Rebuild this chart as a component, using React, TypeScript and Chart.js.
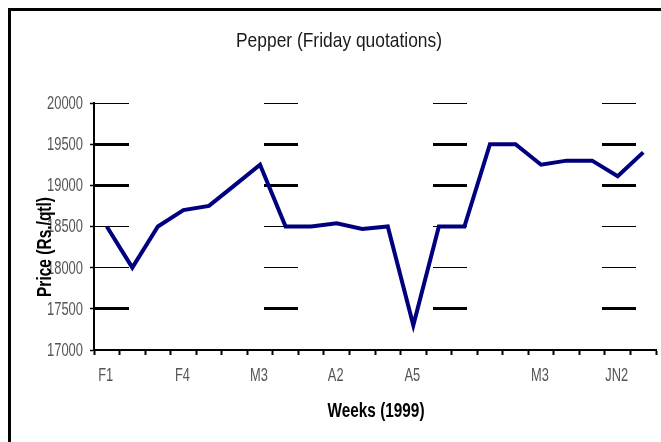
import React, { useEffect, useRef } from "react";
import { Chart, registerables } from "chart.js";

Chart.register(...registerables);

// ---- data ----
const weekLabels: string[] = [
  "F1", "", "", "F4", "", "", "M3", "", "", "A2", "", "",
  "A5", "", "", "", "", "M3", "", "", "JN2", "",
];
const pepperPrices: number[] = [
  18500, 18000, 18500, 18700, 18750, 19000, 19250, 18500, 18500, 18540, 18470,
  18500, 17300, 18500, 18500, 19500, 19500, 19250, 19300, 19300, 19110, 19400,
];
const yMin = 17000;
const yMax = 20000;
const yStep = 500;
const heavyGridValues: number[] = [19500, 19000, 17500];
const chartTitle = "Pepper (Friday quotations)";
const xAxisTitle = "Weeks (1999)";
const yAxisTitle = "Price (Rs./qtl)";

const FAMILY = "'Liberation Sans', Arial, sans-serif";

function drawScaled(
  ctx: CanvasRenderingContext2D,
  text: string,
  x: number,
  y: number,
  align: CanvasTextAlign,
  sx: number
) {
  ctx.save();
  ctx.translate(x, y);
  ctx.scale(sx, 1);
  ctx.textAlign = align;
  ctx.fillText(text, 0, 0);
  ctx.restore();
}

const overlayPlugin = {
  id: "overlayTexts",
  beforeDraw(chart: any) {
    const { ctx, width, height } = chart;
    ctx.save();
    ctx.fillStyle = "#ffffff";
    ctx.fillRect(0, 0, width, height);
    ctx.restore();
  },
  afterDraw(chart: any) {
    const { ctx, chartArea } = chart;
    const xs = chart.scales.x;
    const ys = chart.scales.y;
    ctx.save();
    // outer frame
    ctx.lineWidth = 3;
    ctx.strokeStyle = "#000000";
    ctx.strokeRect(9.5, 9.5, 1000, 1000);

    // y tick labels (narrow)
    ctx.fillStyle = "#555555";
    ctx.font = `18px ${FAMILY}`;
    ctx.textBaseline = "middle";
    const ySx = 36 / ctx.measureText("20000").width;
    ys.ticks.forEach((t: any) => {
      const py = ys.getPixelForValue(t.value);
      drawScaled(ctx, String(t.value), chartArea.left - 11, py + 1, "right", ySx);
    });

    // x tick labels (narrow)
    ctx.font = `19px ${FAMILY}`;
    const xSx = 15 / ctx.measureText("F1").width;
    weekLabels.forEach((lab, i) => {
      if (!lab) return;
      const px = xs.getPixelForValue(i);
      drawScaled(ctx, lab, px - 1, 376, "center", xSx);
    });

    // main title
    ctx.textBaseline = "alphabetic";
    ctx.fillStyle = "#1a1a1a";
    ctx.font = `21px ${FAMILY}`;
    const tSx = 206 / ctx.measureText(chartTitle).width;
    drawScaled(ctx, chartTitle, 339, 47, "center", tSx);

    // x axis title
    ctx.fillStyle = "#000000";
    ctx.font = `bold 20px ${FAMILY}`;
    const xtSx = 97 / ctx.measureText(xAxisTitle).width;
    drawScaled(ctx, xAxisTitle, 376, 417, "center", xtSx);

    // y axis title (rotated)
    ctx.font = `bold 20px ${FAMILY}`;
    const ytSx = 100 / ctx.measureText(yAxisTitle).width;
    ctx.translate(51, 247);
    ctx.rotate(-Math.PI / 2);
    drawScaled(ctx, yAxisTitle, 0, 0, "center", ytSx);
    ctx.restore();
  },
};

export default function App() {
  const canvasRef = useRef<HTMLCanvasElement | null>(null);

  useEffect(() => {
    const canvas = canvasRef.current;
    if (!canvas) return;
    const chart = new Chart(canvas, {
      type: "line",
      data: {
        labels: weekLabels,
        datasets: [
          {
            label: "Pepper",
            data: pepperPrices,
            borderColor: "#00007f",
            backgroundColor: "#00007f",
            borderWidth: 4,
            pointRadius: 0,
            tension: 0,
            fill: false,
          },
        ],
      },
      options: {
        animation: false,
        responsive: false,
        maintainAspectRatio: false,
        devicePixelRatio: 1,
        layout: { padding: { top: 103, right: 5, left: 0, bottom: 0 } },
        plugins: {
          legend: { display: false },
          title: { display: false },
          tooltip: { enabled: false },
        },
        scales: {
          x: {
            type: "category",
            offset: true,
            afterFit: (scale: any) => {
              scale.height = 92;
            },
            grid: {
              offset: true,
              drawOnChartArea: false,
              drawTicks: true,
              tickLength: 5,
              tickWidth: 2,
              tickColor: "#000000",
              color: "#000000",
            },
            border: { display: true, color: "#000000", width: 2 },
            ticks: { display: false, autoSkip: false, maxRotation: 0 },
          },
          y: {
            min: yMin,
            max: yMax,
            afterFit: (scale: any) => {
              scale.width = 94;
            },
            grid: {
              drawTicks: true,
              tickLength: 4,
              tickWidth: 1.5,
              tickColor: "#000000",
              color: (ctx: any) =>
                ctx.tick && ctx.tick.value === yMin ? "rgba(0,0,0,0)" : "#000000",
              lineWidth: (ctx: any) =>
                ctx.tick && heavyGridValues.includes(ctx.tick.value) ? 3 : 1,
            },
            border: { display: true, color: "#000000", width: 2, dash: [34, 135] },
            ticks: { display: false, stepSize: yStep },
          },
        },
      },
      plugins: [overlayPlugin],
    } as any);
    return () => chart.destroy();
  }, []);

  return (
    <div style={{ position: "fixed", left: 0, top: 0, width: 661, height: 442 }}>
      <canvas ref={canvasRef} width={661} height={442} style={{ width: 661, height: 442, display: "block" }} />
    </div>
  );
}
